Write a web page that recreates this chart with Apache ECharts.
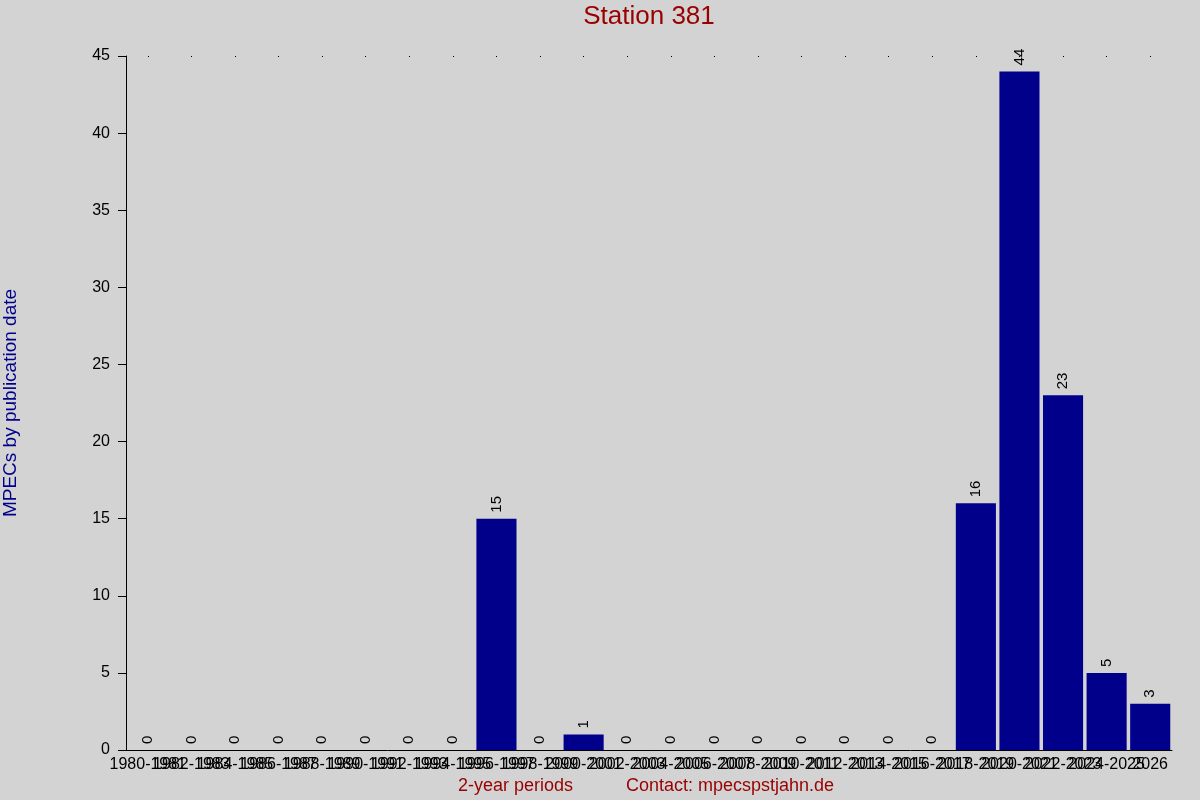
<!DOCTYPE html>
<html>
<head>
<meta charset="utf-8">
<script src="https://cdn.jsdelivr.net/npm/echarts@6/dist/echarts.min.js"></script>
<style>
html,body{margin:0;padding:0;background:#d3d3d3;}
#chart{width:1200px;height:800px;}
</style>
</head>
<body>
<div id="chart"></div>
<script>
const categories = ["1980-1981","1982-1983","1984-1985","1986-1987","1988-1989","1990-1991","1992-1993","1994-1995","1996-1997","1998-1999","2000-2001","2002-2003","2004-2005","2006-2007","2008-2009","2010-2011","2012-2013","2014-2015","2016-2017","2018-2019","2020-2021","2022-2023","2024-2025","2026"];
const values = [0,0,0,0,0,0,0,0,15,0,1,0,0,0,0,0,0,0,0,16,44,23,5,3];
const yTicks = {min:0, max:45, interval:5};

const chart = echarts.init(document.getElementById('chart'), null, {renderer:'canvas'});
const font = 'Liberation Sans, Arial, sans-serif';
chart.setOption({
  backgroundColor:'#d3d3d3',
  animation:false,
  textStyle:{fontFamily:font},
  grid:{left:126, right:28, top:56, bottom:50, containLabel:false, outerBoundsMode:'none'},
  xAxis:[{
    type:'category', data:categories,
    axisLine:{show:true, lineStyle:{color:'#000', width:1}},
    axisTick:{show:false},
    axisLabel:{interval:0, color:'#000', fontSize:16, margin:7, fontFamily:font, hideOverlap:false},
    splitLine:{show:false}
  },{
    type:'category', data:categories, position:'top',
    axisLine:{show:false},
    axisTick:{show:true, interval:0, alignWithLabel:true, length:1, inside:true, lineStyle:{color:'#000'}},
    axisLabel:{show:false}
  }],
  yAxis:{
    type:'value', min:yTicks.min, max:yTicks.max, interval:yTicks.interval,
    name:'MPECs by publication date', nameLocation:'middle', nameGap:106,
    nameTextStyle:{color:'#00008b', fontSize:19, fontFamily:font},
    axisLine:{show:true, lineStyle:{color:'#000', width:1}},
    axisTick:{show:true, length:8, lineStyle:{color:'#000'}},
    axisLabel:{color:'#000', fontSize:16, margin:16, fontFamily:font},
    splitLine:{show:false}
  },
  series:[{
    type:'bar', data:values, barCategoryGap:'8%',
    itemStyle:{color:'#00008b'},
    label:{show:true, position:'top', rotate:90, align:'left', verticalAlign:'middle', distance:6, color:'#000', fontSize:15, fontFamily:font}
  }],
  graphic:[
    {type:'text', x:649, y:4, style:{text:'Station 381', fill:'#990000', font:'26px '+font, textAlign:'center'}},
    {type:'text', left:458, top:777, style:{text:'2-year periods', fill:'#990000', font:'18px '+font}},
    {type:'text', left:626, top:777, style:{text:'Contact: mpecspstjahn.de', fill:'#990000', font:'18px '+font}}
  ]
});
</script>
</body>
</html>
